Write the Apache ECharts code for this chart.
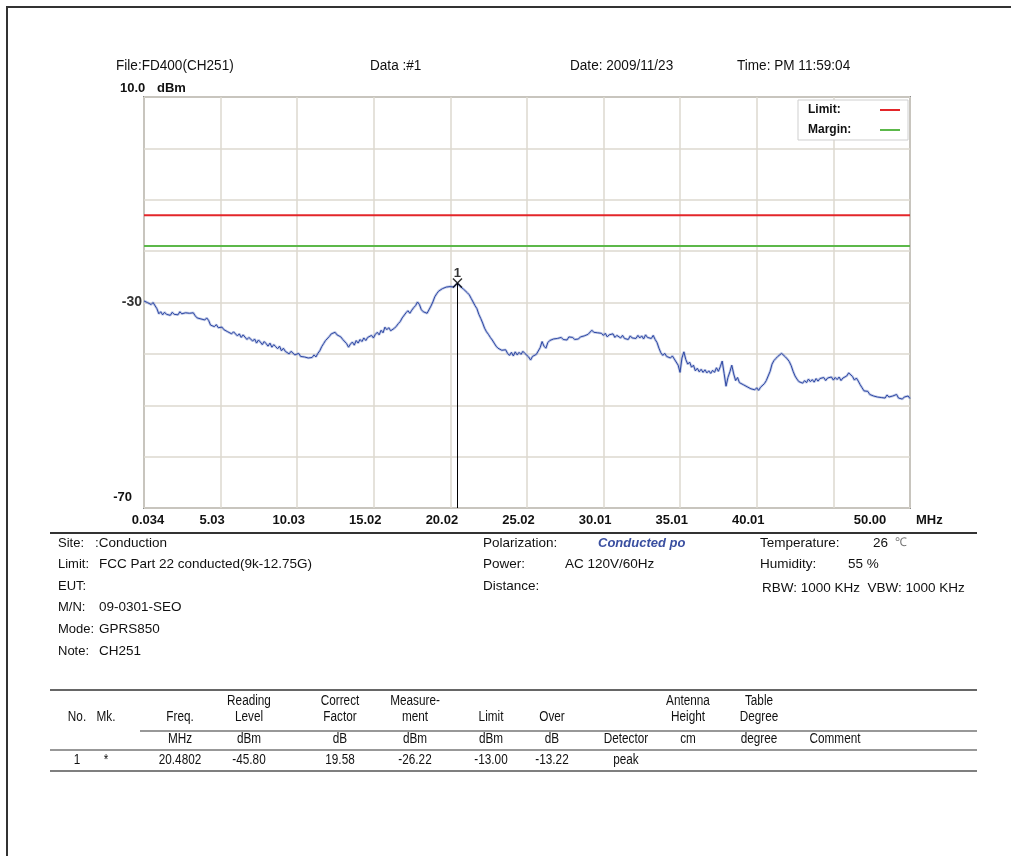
<!DOCTYPE html>
<html>
<head>
<meta charset="utf-8">
<script src="https://cdn.jsdelivr.net/npm/echarts@6/dist/echarts.min.js"></script>
<style>
  html, body { margin: 0; padding: 0; background: #fff; }
  #chart { width: 1011px; height: 856px; }
</style>
</head>
<body>
<div id="chart"></div>
<script>
// Frequency axis labels (one per vertical division, 45.01 is not printed)
const freqTickLabels = ['0.034', '5.03', '10.03', '15.02', '20.02', '25.02', '30.01', '35.01', '40.01', '', '50.00'];
const freqStart = 0.034;
const freqStop = 50.0;
const levelMin = -70;
const levelMax = 10;

// Limit / margin levels (dBm)
const limitLevel = -13;
const marginLevel = -19;

// Marker 1 (peak)
const markerFreq = 20.4802;
const markerLevel = -26.22;

// Measured trace: [frequency MHz, level dBm]
const trace = [
  [0.034, -29.7], [0.125, -29.5], [0.25, -30.0], [0.375, -29.8], [0.5, -30.4], [0.625, -30.0], [0.75, -30.3], [0.875, -31.2],
  [1.0, -32.2], [1.125, -31.8], [1.25, -32.4], [1.375, -31.9], [1.5, -32.3], [1.625, -32.0], [1.75, -32.5], [1.875, -31.9],
  [2.0, -32.3], [2.125, -32.0], [2.25, -32.4], [2.375, -31.8], [2.5, -32.2], [2.625, -32.5], [2.75, -32.0], [2.875, -32.3],
  [3.0, -32.1], [3.125, -32.4], [3.25, -32.0], [3.375, -32.6], [3.5, -33.0], [3.625, -32.7], [3.75, -33.2], [3.875, -32.9],
  [4.0, -33.4], [4.125, -33.0], [4.25, -33.5], [4.375, -34.4], [4.5, -34.2], [4.625, -34.7], [4.75, -34.3], [4.875, -34.9],
  [5.0, -35.2], [5.125, -34.8], [5.25, -35.3], [5.375, -35.0], [5.5, -35.7], [5.625, -35.4], [5.75, -36.1], [5.875, -35.7],
  [6.0, -36.0], [6.125, -36.5], [6.25, -36.1], [6.375, -36.8], [6.5, -36.3], [6.625, -36.6], [6.75, -37.2], [6.875, -36.8],
  [7.0, -37.0], [7.125, -37.5], [7.25, -37.1], [7.375, -37.9], [7.5, -37.3], [7.625, -37.7], [7.75, -38.2], [7.875, -37.6],
  [8.0, -38.0], [8.125, -38.5], [8.25, -37.9], [8.375, -38.7], [8.5, -38.2], [8.625, -38.6], [8.75, -39.0], [8.875, -38.5],
  [9.0, -39.4], [9.125, -38.9], [9.25, -39.5], [9.375, -39.2], [9.5, -40.0], [9.625, -39.5], [9.75, -39.8], [9.875, -40.2],
  [10.0, -40.3], [10.125, -39.9], [10.25, -40.5], [10.375, -40.2], [10.5, -40.6], [10.625, -40.3], [10.75, -40.8], [10.875, -40.5],
  [11.0, -40.7], [11.125, -40.2], [11.25, -40.6], [11.375, -39.9], [11.5, -39.4], [11.625, -38.6], [11.75, -38.0], [11.875, -37.4],
  [12.0, -37.2], [12.125, -36.6], [12.25, -36.1], [12.375, -36.4], [12.5, -35.8], [12.625, -36.3], [12.75, -36.0], [12.875, -36.7],
  [13.0, -37.2], [13.125, -36.9], [13.25, -38.0], [13.375, -38.7], [13.5, -38.1], [13.625, -37.7], [13.75, -38.3], [13.875, -37.4],
  [14.0, -37.9], [14.125, -37.2], [14.25, -37.6], [14.375, -36.9], [14.5, -37.4], [14.625, -36.8], [14.75, -37.1], [14.875, -36.4],
  [15.0, -36.9], [15.125, -36.2], [15.25, -35.8], [15.375, -36.3], [15.5, -35.4], [15.625, -35.9], [15.75, -34.8], [15.875, -35.3],
  [16.0, -34.9], [16.125, -35.5], [16.25, -35.8], [16.375, -35.0], [16.5, -34.6], [16.625, -34.1], [16.75, -33.7], [16.875, -33.0],
  [17.0, -32.7], [17.125, -32.0], [17.25, -31.6], [17.375, -32.1], [17.5, -31.5], [17.625, -31.0], [17.75, -30.6], [17.875, -29.9],
  [18.0, -30.4], [18.125, -31.4], [18.25, -31.8], [18.375, -31.5], [18.5, -32.1], [18.625, -31.8], [18.75, -30.7], [18.875, -29.9],
  [19.0, -28.9], [19.125, -28.3], [19.25, -27.8], [19.375, -27.6], [19.5, -27.3], [19.625, -27.1], [19.75, -27.0], [19.875, -26.8],
  [20.0, -26.9], [20.125, -26.6], [20.25, -27.0], [20.375, -26.7], [20.4802, -26.22], [20.625, -26.8], [20.75, -27.0], [20.875, -27.4],
  [21.0, -27.6], [21.125, -28.1], [21.25, -28.5], [21.375, -29.2], [21.5, -29.9], [21.625, -30.6], [21.75, -31.2], [21.875, -32.3],
  [22.0, -33.1], [22.125, -34.0], [22.25, -35.0], [22.375, -35.7], [22.5, -36.2], [22.625, -36.8], [22.75, -37.3], [22.875, -37.9],
  [23.0, -38.5], [23.125, -38.9], [23.25, -38.7], [23.375, -39.3], [23.5, -39.6], [23.625, -39.2], [23.75, -39.9], [23.875, -40.3],
  [24.0, -39.7], [24.125, -40.4], [24.25, -39.6], [24.375, -40.2], [24.5, -39.7], [24.625, -40.1], [24.75, -39.5], [24.875, -39.9],
  [25.0, -40.2], [25.125, -40.6], [25.25, -41.2], [25.375, -40.5], [25.5, -40.8], [25.625, -40.1], [25.75, -39.9], [25.875, -38.8],
  [26.0, -37.6], [26.125, -38.5], [26.25, -38.9], [26.375, -37.8], [26.5, -37.4], [26.625, -37.7], [26.75, -37.1], [26.875, -37.4],
  [27.0, -37.0], [27.125, -37.3], [27.25, -36.8], [27.375, -37.2], [27.5, -36.9], [27.625, -37.3], [27.75, -36.7], [27.875, -37.0],
  [28.0, -36.8], [28.125, -37.2], [28.25, -36.9], [28.375, -37.1], [28.5, -36.7], [28.625, -37.0], [28.75, -36.5], [28.875, -36.8],
  [29.0, -36.2], [29.125, -35.9], [29.25, -35.4], [29.375, -35.8], [29.5, -35.5], [29.625, -35.9], [29.75, -35.6], [29.875, -36.0],
  [30.0, -36.4], [30.125, -36.0], [30.25, -36.7], [30.375, -36.3], [30.5, -36.6], [30.625, -36.1], [30.75, -36.8], [30.875, -36.4],
  [31.0, -36.6], [31.125, -36.9], [31.25, -36.4], [31.375, -37.0], [31.5, -36.7], [31.625, -37.2], [31.75, -36.5], [31.875, -36.9],
  [32.0, -36.6], [32.125, -37.0], [32.25, -36.4], [32.375, -36.9], [32.5, -36.5], [32.625, -37.1], [32.75, -36.3], [32.875, -36.8],
  [33.0, -36.5], [33.125, -37.0], [33.25, -36.4], [33.375, -37.2], [33.5, -37.8], [33.625, -38.9], [33.75, -39.8], [33.875, -40.3],
  [34.0, -39.9], [34.125, -40.5], [34.25, -40.2], [34.375, -40.8], [34.5, -40.4], [34.625, -41.0], [34.75, -41.3], [34.875, -42.2],
  [35.0, -43.6], [35.125, -40.8], [35.25, -39.6], [35.375, -41.1], [35.5, -42.0], [35.625, -41.6], [35.75, -42.6], [35.875, -42.2],
  [36.0, -43.3], [36.125, -42.8], [36.25, -43.5], [36.375, -43.0], [36.5, -43.6], [36.625, -43.1], [36.75, -43.7], [36.875, -43.3],
  [37.0, -43.8], [37.125, -43.2], [37.25, -43.6], [37.375, -42.7], [37.5, -43.4], [37.625, -42.5], [37.75, -41.4], [37.875, -43.8],
  [38.0, -46.3], [38.125, -44.6], [38.25, -43.5], [38.375, -42.2], [38.5, -43.9], [38.625, -45.2], [38.75, -44.6], [38.875, -45.6],
  [39.0, -45.3], [39.125, -46.0], [39.25, -45.7], [39.375, -46.4], [39.5, -46.1], [39.625, -46.8], [39.75, -46.5], [39.875, -47.0],
  [40.0, -46.6], [40.125, -47.1], [40.25, -46.5], [40.375, -46.2], [40.5, -45.8], [40.625, -45.2], [40.75, -44.3], [40.875, -43.4],
  [41.0, -42.0], [41.125, -41.3], [41.25, -40.9], [41.375, -40.5], [41.5, -40.2], [41.625, -39.9], [41.75, -40.1], [41.875, -40.6],
  [42.0, -41.0], [42.125, -41.5], [42.25, -42.3], [42.375, -43.4], [42.5, -44.3], [42.625, -44.9], [42.75, -45.4], [42.875, -45.1],
  [43.0, -45.7], [43.125, -45.2], [43.25, -45.6], [43.375, -44.9], [43.5, -45.4], [43.625, -45.0], [43.75, -45.5], [43.875, -44.8],
  [44.0, -45.3], [44.125, -44.8], [44.25, -45.1], [44.375, -44.6], [44.5, -45.2], [44.625, -44.7], [44.75, -45.0], [44.875, -44.5],
  [45.0, -45.1], [45.125, -44.6], [45.25, -45.0], [45.375, -44.5], [45.5, -45.2], [45.625, -44.7], [45.75, -44.9], [45.875, -44.3],
  [46.0, -43.7], [46.125, -43.5], [46.25, -44.4], [46.375, -45.1], [46.5, -44.7], [46.625, -45.3], [46.75, -46.0], [46.875, -46.6],
  [47.0, -47.2], [47.125, -47.5], [47.25, -47.3], [47.375, -47.9], [47.5, -47.7], [47.625, -48.2], [47.75, -48.0], [47.875, -48.4],
  [48.0, -48.1], [48.125, -48.5], [48.25, -48.2], [48.375, -48.6], [48.5, -48.0], [48.625, -48.4], [48.75, -48.7], [48.875, -48.2],
  [49.0, -48.5], [49.125, -47.9], [49.25, -48.6], [49.375, -48.3], [49.5, -48.8], [49.625, -48.4], [49.75, -48.6], [49.875, -48.2],
  [50.0, -48.7]
];

// Header line
const headerTexts = [
  ['File:FD400(CH251)', 116],
  ['Data :#1', 370],
  ['Date: 2009/11/23', 570],
  ['Time: PM 11:59:04', 737]
];

// Test information block
const infoLeft = [
  ['Site:', ':Conduction', 543],
  ['Limit:', 'FCC Part 22 conducted(9k-12.75G)', 564],
  ['EUT:', '', 586],
  ['M/N:', '09-0301-SEO', 607],
  ['Mode:', 'GPRS850', 629],
  ['Note:', 'CH251', 651]
];

// Result table
const tableCols = [77, 106, 180, 249, 340, 415, 491, 552, 626, 688, 759, 835];
const tableHead1 = ['', '', '', 'Reading', 'Correct', 'Measure-', '', '', '', 'Antenna', 'Table', ''];
const tableHead2 = ['No.', 'Mk.', 'Freq.', 'Level', 'Factor', 'ment', 'Limit', 'Over', '', 'Height', 'Degree', ''];
const tableUnits = ['', '', 'MHz', 'dBm', 'dB', 'dBm', 'dBm', 'dB', 'Detector', 'cm', 'degree', 'Comment'];
const tableRow1 = ['1', '*', '20.4802', '-45.80', '19.58', '-26.22', '-13.00', '-13.22', 'peak', '', '', ''];

const SANS = "'Liberation Sans', Arial, sans-serif";

// text element anchored at (x, y); sx narrows the glyphs horizontally
function txt(x, y, s, font, extra, sx) {
  return {
    type: 'text', silent: true, x: x, y: y, scaleX: sx || 1, scaleY: 1,
    style: Object.assign({ text: s, x: 0, y: 0, font: font || ('13px ' + SANS), fill: '#111', align: 'left', verticalAlign: 'middle' }, extra || {})
  };
}
function hline(x1, x2, y, w, c) {
  return { type: 'line', silent: true, shape: { x1: x1, y1: y, x2: x2, y2: y }, style: { stroke: c || '#222', lineWidth: w || 1 } };
}

const graphics = [];
// page frame
graphics.push(hline(6, 1011, 7, 2, '#333'));
graphics.push({ type: 'line', silent: true, shape: { x1: 7, y1: 6, x2: 7, y2: 856 }, style: { stroke: '#333', lineWidth: 2 } });

headerTexts.forEach(h => graphics.push(txt(h[1], 66, h[0], '14px ' + SANS, null, 0.97)));
graphics.push(txt(120, 88, '10.0', 'bold 13px ' + SANS));
graphics.push(txt(157, 88, 'dBm', 'bold 13px ' + SANS));

// separators and information block
graphics.push(hline(50, 977, 533, 2, '#333'));
infoLeft.forEach(r => {
  graphics.push(txt(58, r[2], r[0], '13px ' + SANS));
  if (r[1]) graphics.push(txt(r[1].startsWith(':') ? 95 : 99, r[2], r[1], '13.5px ' + SANS));
});
graphics.push(txt(483, 543, 'Polarization:', '13.5px ' + SANS));
graphics.push(txt(598, 543, 'Conducted po', 'italic bold 13px ' + SANS, { fill: '#3a4fa0' }));
graphics.push(txt(483, 564, 'Power:', '13.5px ' + SANS));
graphics.push(txt(565, 564, 'AC 120V/60Hz', '13.5px ' + SANS));
graphics.push(txt(483, 586, 'Distance:', '13.5px ' + SANS));
graphics.push(txt(760, 543, 'Temperature:', '13.5px ' + SANS));
graphics.push(txt(873, 543, '26', '13.5px ' + SANS));
graphics.push(txt(895, 543, '\u2103', '12px ' + SANS, { fill: '#777' }));
graphics.push(txt(760, 564, 'Humidity:', '13.5px ' + SANS));
graphics.push(txt(848, 564, '55 %', '13.5px ' + SANS));
graphics.push(txt(762, 588, 'RBW: 1000 KHz  VBW: 1000 KHz', '13.5px ' + SANS));

// result table
graphics.push(hline(50, 977, 690, 1.5, '#333'));
graphics.push(hline(140, 977, 731, 1.2, '#333'));
graphics.push(hline(50, 977, 750, 1.2, '#333'));
graphics.push(hline(50, 977, 771, 1.5, '#555'));
const tfont = '14px ' + SANS;
[[tableHead1, 701], [tableHead2, 717], [tableUnits, 739], [tableRow1, 760]].forEach(([row, y]) => {
  row.forEach((s, i) => {
    if (s) graphics.push(txt(tableCols[i], y, s, tfont, { align: 'center' }, 0.84));
  });
});

const tickFont = { fontFamily: SANS, fontWeight: 'bold', fontSize: 13, color: '#111' };
const legendText = { fontFamily: SANS, fontWeight: 'bold', fontSize: 12, color: '#111', width: 67, align: 'left' };

const chart = echarts.init(document.getElementById('chart'), null, { renderer: 'canvas' });
chart.setOption({
  animation: false,
  backgroundColor: '#fff',
  grid: {
    left: 144, top: 97, width: 766, height: 411,
    show: true, borderColor: '#8c8c8c', borderWidth: 2, backgroundColor: 'transparent'
  },
  legend: {
    orient: 'vertical', right: 103, top: 100, align: 'right',
    data: ['Limit', 'Margin'],
    itemWidth: 20, itemHeight: 2, itemGap: 8, icon: 'rect',
    backgroundColor: '#fff', borderColor: '#cfcfcf', borderWidth: 1,
    padding: [4, 8, 4, 10],
    formatter: n => '{t|' + n + ':}',
    textStyle: { rich: { t: legendText } },
    selectedMode: false
  },
  xAxis: [
    { type: 'value', min: freqStart, max: freqStop, show: false },
    {
      type: 'category', data: freqTickLabels, boundaryGap: false, position: 'bottom',
      axisLine: { show: false }, axisTick: { show: false },
      splitLine: { show: true, lineStyle: { color: '#dcd8cf', width: 1.5 } },
      name: 'MHz', nameLocation: 'end', nameGap: 6,
      nameTextStyle: Object.assign({ verticalAlign: 'top', padding: [6, 0, 0, 0] }, tickFont),
      axisLabel: Object.assign({
        interval: 0, margin: 6,
        formatter: (v, i) => i === 0 ? '{a|' + v + '}' : i === 10 ? '{c|' + v + '}' : '{b|' + v + '}',
        rich: {
          a: Object.assign({ padding: [0, 0, 0, 8] }, tickFont),
          b: Object.assign({ padding: [0, 17, 0, 0] }, tickFont),
          c: Object.assign({ padding: [0, 80, 0, 0] }, tickFont)
        }
      }, tickFont)
    }
  ],
  yAxis: {
    type: 'value', min: levelMin, max: levelMax, interval: 10,
    axisLine: { show: false }, axisTick: { show: false },
    splitLine: { lineStyle: { color: '#dcd8cf', width: 1.5 } },
    axisLabel: {
      margin: 2, fontFamily: SANS, fontSize: 13, color: '#111',
      formatter: v => v === -30 ? '{m|-30}' : v === -70 ? '{l|-70}' : '',
      rich: {
        m: { fontFamily: SANS, fontWeight: 'bold', fontSize: 14, color: '#333' },
        l: { fontFamily: SANS, fontWeight: 'bold', fontSize: 13, color: '#111', padding: [0, 10, 22, 0] }
      }
    }
  },
  series: [
    {
      name: 'Limit', type: 'line', xAxisIndex: 0, showSymbol: false, silent: true,
      data: [[freqStart, limitLevel], [freqStop, limitLevel]],
      lineStyle: { color: '#e3262a', width: 2 }, itemStyle: { color: '#e3262a' }
    },
    {
      name: 'Margin', type: 'line', xAxisIndex: 0, showSymbol: false, silent: true,
      data: [[freqStart, marginLevel], [freqStop, marginLevel]],
      lineStyle: { color: '#5cb84a', width: 2 }, itemStyle: { color: '#5cb84a' }
    },
    {
      name: 'trace-halo', type: 'line', xAxisIndex: 0, showSymbol: false, silent: true,
      data: trace, lineStyle: { color: 'rgba(120,140,205,0.45)', width: 2.6 }
    },
    {
      name: 'trace', type: 'line', xAxisIndex: 0, showSymbol: false, silent: true,
      data: trace, lineStyle: { color: '#2d47a3', width: 1 },
      markLine: {
        silent: true, symbol: 'none', label: { show: false },
        lineStyle: { color: '#000', width: 1, type: 'solid' },
        data: [[{ coord: [markerFreq, markerLevel] }, { coord: [markerFreq, levelMin] }]]
      }
    },
    {
      name: 'marker', type: 'scatter', xAxisIndex: 0, silent: true,
      data: [[markerFreq, markerLevel]],
      symbol: 'path://M0,0L10,10M10,0L0,10', symbolSize: 9,
      itemStyle: { color: 'transparent', borderColor: '#000', borderWidth: 1.5 },
      label: { show: true, position: 'top', distance: -2, formatter: '1', fontFamily: SANS, fontWeight: 'bold', fontSize: 13, color: '#000' },
      z: 5
    }
  ],
  graphic: graphics
});
</script>
</body>
</html>
